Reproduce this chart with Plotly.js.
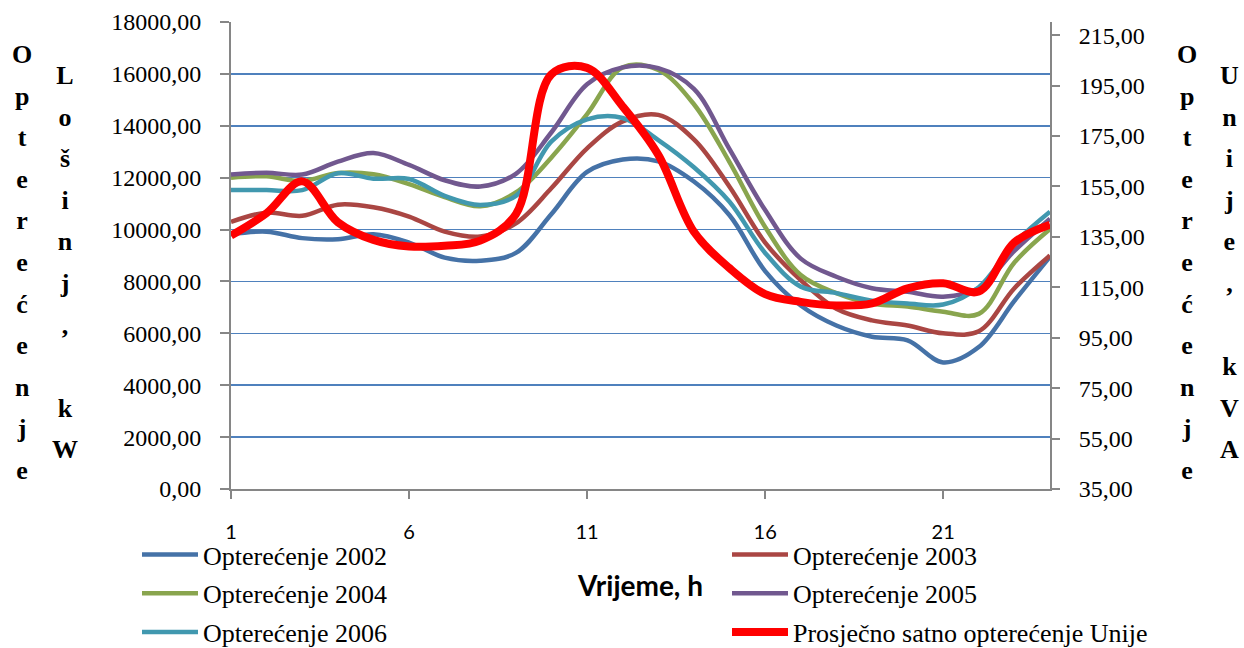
<!DOCTYPE html>
<html>
<head>
<meta charset="utf-8">
<script src="https://cdn.plot.ly/plotly-3.0.1.min.js"></script>
<style>
html,body{margin:0;padding:0;background:#fff}
#chart{width:1244px;height:648px}
</style>
</head>
<body>
<div id="chart"></div>
<script>
// ---- data ----
const hours = [1,2,3,4,5,6,7,8,9,10,11,12,13,14,15,16,17,18,19,20,21,22,23,24];
const tickHours = [1,6,11,16,21];
const tickLabels = ['1','6','11','16','21'];

const load2002 = [9820,9920,9670,9630,9820,9500,8920,8800,9100,10600,12220,12700,12630,11850,10550,8400,7070,6300,5870,5730,4880,5470,7250,8950];
const load2003 = [10300,10650,10530,10960,10860,10500,9920,9730,10240,11600,13130,14170,14420,13480,11650,9500,8050,6950,6500,6300,6000,6080,7740,9000];
const load2004 = [12000,12050,11870,12180,12130,11750,11250,10900,11430,12780,14450,16250,16150,14830,12600,10100,8250,7550,7150,7030,6830,6750,8730,10020];
const load2005 = [12120,12190,12120,12620,12950,12490,11900,11660,12150,13750,15600,16250,16220,15420,13100,10750,8880,8180,7740,7600,7410,7740,9180,10420];
const load2006 = [11520,11520,11520,12170,11960,11950,11300,10950,11300,13400,14250,14300,13450,12400,11070,9100,7800,7550,7260,7150,7110,7780,9470,10690];
const unionAvg = [135.5,144.4,157,140.8,133.8,131.2,131.5,133.5,144,199.5,202,186.7,167.5,137,122.6,112.3,109.2,107.8,108.6,114.6,116.6,113.3,132.8,139.8];

const seriesNames = ['Opterećenje 2002','Opterećenje 2003','Opterećenje 2004','Opterećenje 2005','Opterećenje 2006','Prosječno satno opterećenje Unije'];

const leftTitleCol1 = 'Opterećenje';
const leftTitleCol2 = 'Lošinj, kW';
const rightTitleCol1 = 'Opterećenje';
const rightTitleCol2 = 'Unije, kVA';
const xTitle = 'Vrijeme, h';

// ---- styling ----
const colors = ['#4572A7','#AA4643','#89A54E','#71588F','#4198AF','#FF0000'];

function mkLine(y, i, legendName, axis, width) {
  return {
    x: hours, y: y, name: seriesNames[i], type: 'scatter', mode: 'lines',
    yaxis: axis, legend: legendName, legendgroup: 'g' + i,
    line: {color: colors[i], width: width, shape: 'spline', smoothing: 1},
    hoverinfo: 'x+y+name'
  };
}

const traces = [
  mkLine(load2002, 0, 'legend', 'y', 4.5),
  mkLine(load2003, 1, 'legend2', 'y', 4.5),
  mkLine(load2004, 2, 'legend', 'y', 4.5),
  mkLine(load2005, 3, 'legend2', 'y', 4.5),
  mkLine(load2006, 4, 'legend', 'y', 4.5),
  mkLine(unionAvg, 5, 'legend2', 'y2', 8)
];

function stacked(s) {
  return s.split('').map(function(c){
    const ch = (c === ' ') ? '\u00a0' : c;
    return '<span style="font-size:26px;font-weight:bold">' + ch + '</span>';
  }).join('<br>');
}

const serif = 'Liberation Serif, Times New Roman, serif';
const axisGray = '#868686';

const legendCommon = {
  xref: 'container', yref: 'container', xanchor: 'left', yanchor: 'top',
  bgcolor: 'rgba(0,0,0,0)', borderwidth: 0,
  font: {family: serif, size: 26, color: '#000'},
  tracegroupgap: 2, itemwidth: 56, traceorder: 'grouped', maxheight: 1000
};

const layout = {
  width: 1244, height: 648,
  margin: {l: 231, r: 194, t: 22, b: 159, pad: 0, autoexpand: false},
  paper_bgcolor: '#ffffff', plot_bgcolor: '#ffffff',
  separators: ',.',
  showlegend: true,
  xaxis: {
    range: [1, 24], tickmode: 'array', tickvals: tickHours, ticktext: tickLabels,
    ticks: 'outside', ticklen: 8, tickwidth: 2, tickcolor: axisGray,
    showline: true, linecolor: axisGray, linewidth: 2,
    showgrid: false, zeroline: false, automargin: false,
    tickfont: {family: 'Lato, Carlito, sans-serif', size: 20, color: '#000'},
    ticklabelstandoff: 16,
    title: {text: '<b>' + xTitle + '</b>', font: {family: 'Lato, Carlito, sans-serif', size: 28, color: '#000'}, standoff: 34}
  },
  yaxis: {
    range: [0, 18000], tick0: 0, dtick: 2000, tickformat: '.2f',
    ticks: 'outside', ticklen: 9, tickwidth: 2, tickcolor: axisGray,
    showline: true, linecolor: axisGray, linewidth: 2, automargin: false,
    showgrid: true, gridcolor: '#4F81BD', gridwidth: 1.6, zeroline: false,
    tickfont: {family: serif, size: 24, color: '#000'},
    ticklabelstandoff: 14
  },
  yaxis2: {
    overlaying: 'y', side: 'right', anchor: 'x',
    range: [35, 220.2], tick0: 35, dtick: 20, tickformat: '.2f',
    ticks: 'outside', ticklen: 8, tickwidth: 2, tickcolor: axisGray,
    showline: true, linecolor: axisGray, linewidth: 2, automargin: false,
    showgrid: false, zeroline: false,
    tickfont: {family: serif, size: 24, color: '#000'},
    ticklabelstandoff: 14
  },
  legend: Object.assign({}, legendCommon, {x: 137/1244, y: 1 - 531/648}),
  legend2: Object.assign({}, legendCommon, {x: 727/1244, y: 1 - 531/648}),
  annotations: [
    {text: stacked(leftTitleCol1), xref: 'paper', yref: 'paper', x: (22-231)/819, y: (489-262)/467, xanchor: 'center', yanchor: 'middle', align: 'center', showarrow: false, font: {family: serif, size: 32, color: '#000'}},
    {text: stacked(leftTitleCol2), xref: 'paper', yref: 'paper', x: (65-231)/819, y: (489-262)/467, xanchor: 'center', yanchor: 'middle', align: 'center', showarrow: false, font: {family: serif, size: 32, color: '#000'}},
    {text: stacked(rightTitleCol1), xref: 'paper', yref: 'paper', x: (1187-231)/819, y: (489-262)/467, xanchor: 'center', yanchor: 'middle', align: 'center', showarrow: false, font: {family: serif, size: 32, color: '#000'}},
    {text: stacked(rightTitleCol2), xref: 'paper', yref: 'paper', x: (1229-231)/819, y: (489-262)/467, xanchor: 'center', yanchor: 'middle', align: 'center', showarrow: false, font: {family: serif, size: 32, color: '#000'}}
  ]
};

Plotly.newPlot('chart', traces, layout, {displayModeBar: false, staticPlot: true});
</script>
</body>
</html>
